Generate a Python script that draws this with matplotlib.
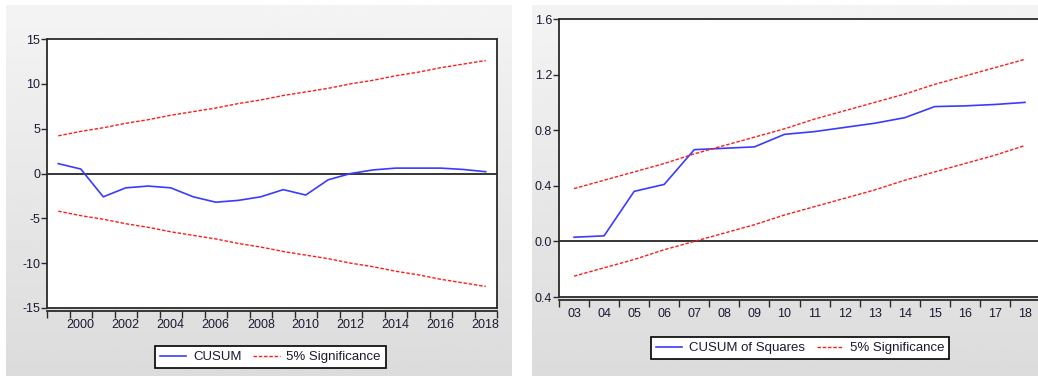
import numpy as np
import matplotlib
matplotlib.use("Agg")
import matplotlib.pyplot as plt

plt.rcParams['font.family'] = ['Liberation Sans', 'DejaVu Sans']

# CUSUM test (left)
years = [1999, 2000, 2001, 2002, 2003, 2004, 2005, 2006, 2007, 2008,
         2009, 2010, 2011, 2012, 2013, 2014, 2015, 2016, 2017, 2018]
cusum = [1.1, 0.5, -2.6, -1.6, -1.4, -1.6, -2.6, -3.2, -3.0, -2.6,
         -1.8, -2.4, -0.7, 0.0, 0.4, 0.6, 0.6, 0.6, 0.45, 0.2]
cusum_upper = [4.2, 4.7, 5.1, 5.6, 6.0, 6.5, 6.9, 7.3, 7.8, 8.2,
               8.7, 9.1, 9.5, 10.0, 10.4, 10.9, 11.3, 11.8, 12.2, 12.6]
cusum_lower = [-4.2, -4.7, -5.1, -5.6, -6.0, -6.5, -6.9, -7.3, -7.8, -8.2,
               -8.7, -9.1, -9.5, -10.0, -10.4, -10.9, -11.3, -11.8, -12.2, -12.6]
left_yticks = [15, 10, 5, 0, -5, -10, -15]
left_xlabels = [2000, 2002, 2004, 2006, 2008, 2010, 2012, 2014, 2016, 2018]

# CUSUM of squares test (right)
sq_years = [2003, 2004, 2005, 2006, 2007, 2008, 2009, 2010,
            2011, 2012, 2013, 2014, 2015, 2016, 2017, 2018]
sq_labels = ['03', '04', '05', '06', '07', '08', '09', '10',
             '11', '12', '13', '14', '15', '16', '17', '18']
cusumsq = [0.03, 0.04, 0.36, 0.41, 0.66, 0.67, 0.68, 0.77,
           0.79, 0.82, 0.85, 0.89, 0.97, 0.975, 0.985, 1.0]
sq_upper = [0.38, 0.44, 0.50, 0.56, 0.63, 0.69, 0.75, 0.81,
            0.88, 0.94, 1.00, 1.06, 1.13, 1.19, 1.25, 1.31]
sq_lower = [-0.25, -0.19, -0.13, -0.06, 0.00, 0.06, 0.12, 0.19,
            0.25, 0.31, 0.37, 0.44, 0.50, 0.56, 0.62, 0.69]
right_yticks = [1.6, 1.2, 0.8, 0.4, 0.0, -0.4]
right_ylabels = ['1.6', '1.2', '0.8', '0.4', '0.0', '0.4']

W, H = 1038, 376
fig = plt.figure(figsize=(W / 100, H / 100), dpi=100, facecolor='white')


def px(x0, y0, x1, y1):
    return [x0 / W, 1 - y1 / H, (x1 - x0) / W, (y1 - y0) / H]


# grey gradient panels
grad = np.linspace(0.955, 0.86, 256).reshape(-1, 1)
for box in [px(6, 5, 512, 376), px(532, 5, 1038, 376)]:
    bg = fig.add_axes(box, zorder=0)
    bg.imshow(grad, cmap='gray', vmin=0, vmax=1, aspect='auto',
              extent=[0, 1, 0, 1])
    bg.axis('off')

blue = '#3b3bff'
red = '#ff1a1a'
frame = '#2a2a2a'
tick_col = '#1a1a33'
dash = (0, (2.5, 1.3))


def style(ax, xlo, xhi, ylo, yhi):
    ax.set_facecolor('white')
    ax.set_xlim(xlo, xhi)
    ax.set_ylim(ylo, yhi)
    for s in ax.spines.values():
        s.set_color(frame)
        s.set_linewidth(1.3)
    ax.spines['bottom'].set_position(('outward', 2))
    ax.plot([0, 1], [0, 0], transform=ax.transAxes, color=frame, lw=1.3,
            clip_on=False)
    ax.axhline(0, color='black', lw=1.1, zorder=2)
    ax.tick_params(axis='y', direction='out', length=4, width=1,
                   color=frame, labelsize=9, labelcolor=tick_col, pad=1)
    ax.tick_params(axis='x', which='major', direction='out', length=5,
                   width=1, color=frame, labelbottom=False)
    ax.tick_params(axis='x', which='minor', length=0, labelsize=9,
                   labelcolor=tick_col, pad=6)


# left panel
ax1 = fig.add_axes(px(47, 39, 497, 308), zorder=2)
style(ax1, 1998.5, 2018.5, -15, 15)
ax1.plot(years, cusum, color=blue, lw=1.2, label='CUSUM', zorder=3)
ax1.plot(years, cusum_upper, color=red, lw=1.0, ls=dash,
         label='5% Significance', zorder=3)
ax1.plot(years, cusum_lower, color=red, lw=1.0, ls=dash, zorder=3)
ax1.set_yticks(left_yticks)
ax1.set_yticklabels([str(v) for v in left_yticks])
ax1.set_xticks(np.arange(1998.5, 2019, 1))
ax1.set_xticks(left_xlabels, minor=True)
ax1.set_xticklabels([str(v) for v in left_xlabels], minor=True)

# right panel
ax2 = fig.add_axes(px(559, 19, 1040, 297), zorder=2)
style(ax2, 2002.5, 2018.5, -0.4, 1.6)
ax2.plot(sq_years, cusumsq, color=blue, lw=1.2, label='CUSUM of Squares',
         zorder=3)
ax2.plot(sq_years, sq_upper, color=red, lw=1.0, ls=dash,
         label='5% Significance', zorder=3)
ax2.plot(sq_years, sq_lower, color=red, lw=1.0, ls=dash, zorder=3)
ax2.set_yticks(right_yticks)
ax2.set_yticklabels(right_ylabels)
ax2.set_xticks(np.arange(2002.5, 2019, 1))
ax2.set_xticks(sq_years, minor=True)
ax2.set_xticklabels(sq_labels, minor=True)

# legends
for ax, cx, cy in [(ax1, 270.5, 357), (ax2, 800, 348)]:
    leg = ax.legend(loc='center', bbox_to_anchor=(cx / W, 1 - cy / H),
                    bbox_transform=fig.transFigure, ncol=2, fontsize=9.5,
                    frameon=True, fancybox=False, edgecolor='black',
                    framealpha=1, handlelength=2.0, columnspacing=0.9,
                    handletextpad=0.5, borderpad=0.4, borderaxespad=0)
    leg.get_frame().set_linewidth(1.2)
    for t in leg.get_texts():
        t.set_color(tick_col)

fig.savefig('out.png', dpi=100, facecolor='white')
